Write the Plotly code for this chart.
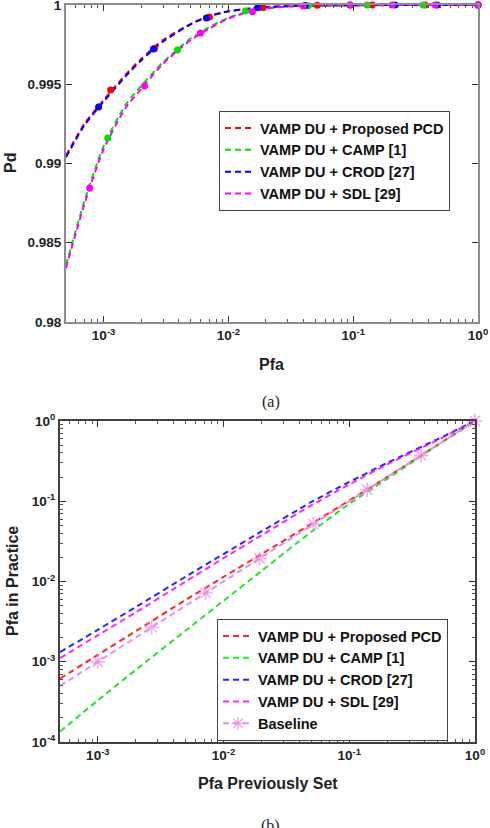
import numpy as np
import plotly.graph_objects as go

# ---- panel (a): Pd vs Pfa ----
pfa_grid = [5e-4, 7e-4, 1e-3, 1.5e-3, 2e-3, 3e-3, 5e-3, 7e-3, 1e-2, 1.5e-2, 2e-2, 3e-2, 5e-2, 0.1, 0.3, 1]
pd_pcd = [0.9905, 0.9925, 0.9940, 0.9956, 0.9966, 0.9978, 0.9988, 0.9993, 0.9996, 0.99978, 0.99987, 0.99993, 0.99997, 0.99999, 1.0, 1.0]
pd_camp = [0.9836, 0.9876, 0.9911, 0.9937, 0.9949, 0.9964, 0.9979, 0.9986, 0.9992, 0.99963, 0.9998, 0.9999, 0.99995, 0.99998, 1.0, 1.0]
pd_crod = [0.9904, 0.9924, 0.9939, 0.9955, 0.9965, 0.9977, 0.9988, 0.9993, 0.9996, 0.99978, 0.99987, 0.99993, 0.99997, 0.99999, 1.0, 1.0]
pd_sdl = [0.9834, 0.9874, 0.9909, 0.9935, 0.9947, 0.9963, 0.9978, 0.9985, 0.99915, 0.9996, 0.99978, 0.9999, 0.99995, 0.99998, 1.0, 1.0]

# dot markers (sparse points on each curve)
mk_pcd_x = [1.14e-3, 2.56e-3, 7.05e-3, 1.9e-2, 5.15e-2, 0.142, 0.377, 1]
mk_pcd_y = [0.99464, 0.99725, 0.99925, 0.99985, 0.99998, 1, 1, 1]
mk_camp_x = [1.08e-3, 3.91e-3, 1.37e-2, 4.37e-2, 0.129, 0.363, 1]
mk_camp_y = [0.99161, 0.99716, 0.99962, 0.99995, 1, 1, 1]
mk_crod_x = [9.12e-4, 2.51e-3, 6.67e-3, 1.71e-2, 4.13e-2, 9.46e-2, 0.217, 0.47, 1]
mk_crod_y = [0.99356, 0.99722, 0.99918, 0.99982, 0.99997, 1, 1, 1, 1]
mk_sdl_x = [7.73e-4, 2.13e-3, 5.97e-3, 1.56e-2, 3.98e-2, 9.46e-2, 0.205, 0.453, 1]
mk_sdl_y = [0.98845, 0.99489, 0.99823, 0.99957, 0.99993, 1, 1, 1, 1]

# ---- panel (b): Pfa in practice vs Pfa previously set ----
pfa_set = [5e-4, 1e-3, 2e-3, 5e-3, 1e-2, 2e-2, 5e-2, 0.1, 0.2, 0.5, 1]
prac_pcd = [6.15e-4, 1.22e-3, 2.4e-3, 5.9e-3, 1.14e-2, 2.19e-2, 5.24e-2, 0.102, 0.2, 0.5, 1]
prac_camp = [1.35e-4, 3.3e-4, 7.9e-4, 2.45e-3, 5.75e-3, 1.35e-2, 4.17e-2, 9.3e-2, 0.19, 0.495, 1]
prac_crod = [1.32e-3, 2.5e-3, 4.8e-3, 1.15e-2, 2.2e-2, 4.2e-2, 9.8e-2, 0.174, 0.30, 0.59, 1]
prac_sdl = [1.11e-3, 2.14e-3, 4.12e-3, 1.0e-2, 1.95e-2, 3.76e-2, 8.9e-2, 0.162, 0.288, 0.575, 1]
baseline_x = [5e-4, 1e-3, 2.68e-3, 7.2e-3, 1.93e-2, 5.18e-2, 0.139, 0.373, 1]
baseline_y = [5e-4, 1e-3, 2.68e-3, 7.2e-3, 1.93e-2, 5.18e-2, 0.139, 0.373, 1]

names = ["VAMP DU + Proposed PCD", "VAMP DU + CAMP [1]", "VAMP DU + CROD [27]", "VAMP DU + SDL [29]"]
colors = ["#ff0000", "#00e000", "#0000ff", "#ff00ff"]

W, H = 490, 828
FONT = "Liberation Sans"
DASH = "6px,4px"

fig = go.Figure()

curves_a = [pd_pcd, pd_camp, pd_crod, pd_sdl]
for name, col, yy in zip(names, colors, curves_a):
    fig.add_trace(go.Scatter(x=pfa_grid, y=yy, mode="lines", name=name,
                             line=dict(color=col, width=2, dash=DASH, shape="spline", smoothing=0.6),
                             xaxis="x", yaxis="y", legend="legend"))
markers_a = [(mk_pcd_x, mk_pcd_y), (mk_camp_x, mk_camp_y), (mk_crod_x, mk_crod_y), (mk_sdl_x, mk_sdl_y)]
for col, (mx, my) in zip(colors, markers_a):
    fig.add_trace(go.Scatter(x=mx, y=my, mode="markers", showlegend=False,
                             marker=dict(color=col, size=7), cliponaxis=False,
                             xaxis="x", yaxis="y"))

curves_b = [prac_pcd, prac_camp, prac_crod, prac_sdl]
for name, col, yy in zip(names, colors, curves_b):
    fig.add_trace(go.Scatter(x=pfa_set, y=yy, mode="lines", name=name,
                             line=dict(color=col, width=2, dash=DASH, shape="spline", smoothing=0.6),
                             opacity=0.85, xaxis="x2", yaxis="y2", legend="legend2"))
fig.add_trace(go.Scatter(x=baseline_x, y=baseline_y, mode="lines+markers", name="Baseline",
                         line=dict(color="#e68fe6", width=2, dash=DASH),
                         marker=dict(symbol="asterisk-open", size=[0] + [12] * (len(baseline_x) - 1),
                                     line=dict(color="#dd80dd", width=1.6)),
                         cliponaxis=False, xaxis="x2", yaxis="y2", legend="legend2"))

def px_x(p):
    return p / W

def px_y(p):
    return 1 - p / H

tick_font = dict(family=FONT, size=13.5, color="#222222", weight="bold")
minor_log = [m * 10.0 ** e for e in range(-4, 0) for m in range(2, 10)]

def log_x(domain, color):
    return dict(type="log", domain=domain, range=[np.log10(5e-4), 0], automargin=False,
                tickvals=[1e-3, 1e-2, 1e-1, 1],
                ticktext=["10<sup>-3</sup>", "10<sup>-2</sup>", "10<sup>-1</sup>", "10<sup>0</sup>"],
                ticks="inside", ticklen=6, tickcolor="#333", mirror="ticks", ticklabeloverflow="allow",
                showline=True, linecolor=color, linewidth=2, showgrid=False, zeroline=False,
                minor=dict(ticks="inside", ticklen=3, tickcolor="#555", tickvals=minor_log, showgrid=False),
                tickfont=tick_font)

fig.update_layout(
    width=W, height=H,
    margin=dict(l=0, r=0, t=0, b=0, pad=0, autoexpand=False),
    paper_bgcolor="white", plot_bgcolor="white",
    font=dict(family=FONT, color="#222"),
    xaxis=dict(log_x([px_x(66), px_x(478)], "#8c8c8c"), anchor="y"),
    yaxis=dict(domain=[px_y(322), px_y(5)], range=[0.98, 1], anchor="x", automargin=False,
               tickvals=[0.98, 0.985, 0.99, 0.995, 1],
               ticktext=["0.98", "0.985", "0.99", "0.995", "1"],
               ticks="inside", ticklen=6, tickcolor="#333", mirror="ticks", ticklabeloverflow="allow",
               showline=True, linecolor="#8c8c8c", linewidth=2, showgrid=False, zeroline=False,
               tickfont=tick_font),
    xaxis2=dict(log_x([px_x(60), px_x(475)], "#404040"), anchor="y2"),
    yaxis2=dict(type="log", domain=[px_y(742), px_y(421)], range=[-4, 0], anchor="x2", automargin=False,
                tickvals=[1e-4, 1e-3, 1e-2, 1e-1, 1],
                ticktext=["10<sup>-4</sup>", "10<sup>-3</sup>", "10<sup>-2</sup>", "10<sup>-1</sup>", "10<sup>0</sup>"],
                ticks="inside", ticklen=6, tickcolor="#333", mirror="ticks", ticklabeloverflow="allow",
                showline=True, linecolor="#404040", linewidth=2, showgrid=False, zeroline=False,
                minor=dict(ticks="inside", ticklen=3, tickcolor="#555", tickvals=minor_log, showgrid=False),
                tickfont=tick_font),
    legend=dict(x=px_x(219), y=px_y(111), xanchor="left", yanchor="top",
                bgcolor="white", bordercolor="#444", borderwidth=1,
                font=dict(family=FONT, size=14.5, color="#111", weight="bold"),
                tracegroupgap=0, itemwidth=30),
    legend2=dict(x=px_x(217), y=px_y(619), xanchor="left", yanchor="top",
                 bgcolor="white", bordercolor="#444", borderwidth=1,
                 font=dict(family=FONT, size=14.5, color="#111", weight="bold"),
                 tracegroupgap=0, itemwidth=30),
)

title_font = dict(family=FONT, size=16, color="#222", weight="bold")
cap_font = dict(family="Liberation Serif", size=16, color="#222")
annots = [
    dict(text="Pd", x=px_x(10), y=px_y(163), textangle=-90, font=title_font),
    dict(text="Pfa", x=px_x(271), y=px_y(365), font=title_font),
    dict(text="(a)", x=px_x(271), y=px_y(402), font=cap_font),
    dict(text="Pfa in Practice", x=px_x(12), y=px_y(581), textangle=-90, font=title_font),
    dict(text="Pfa Previously Set", x=px_x(268), y=px_y(783), font=title_font),
    dict(text="(b)", x=px_x(270), y=px_y(826), font=cap_font),
]
for a in annots:
    fig.add_annotation(xref="paper", yref="paper", showarrow=False,
                       xanchor="center", yanchor="middle", **a)

# drop the browser's default 8px page margin so the figure sits at the window corner
fig.write_html("out.html", config={"displayModeBar": False},
               post_script="document.body.style.margin='0';")
